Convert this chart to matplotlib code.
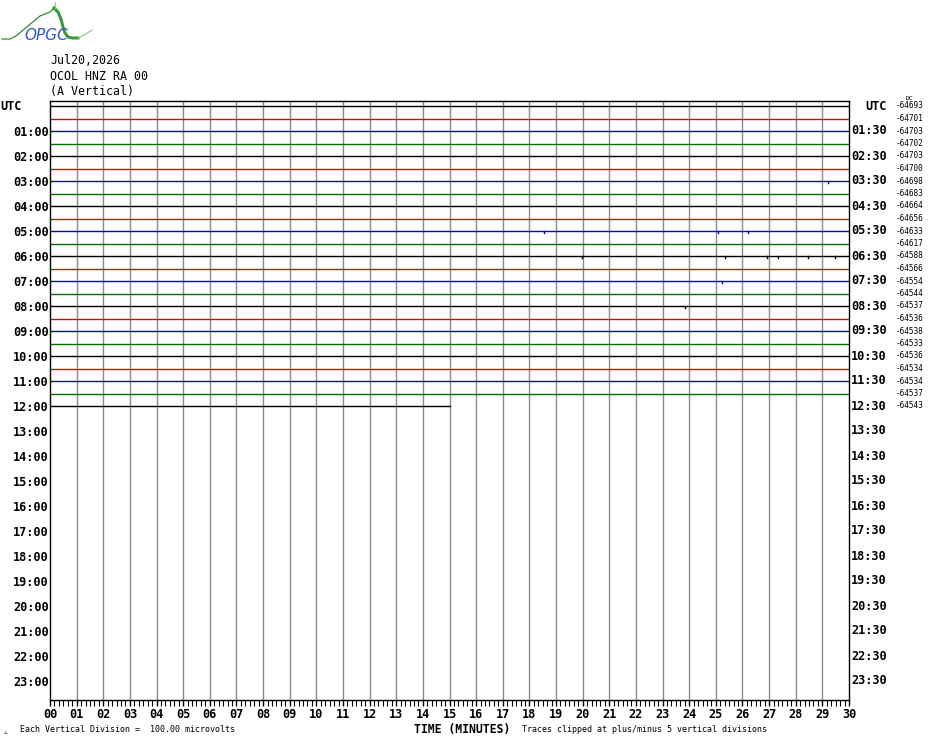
import matplotlib
matplotlib.use("Agg")
import matplotlib.pyplot as plt
import matplotlib.transforms as mtransforms
import numpy as np

# --- data read from the helicorder ---
station = "OCOL HNZ RA 00"
date_str = "Jul20,2026"
component = "(A Vertical)"

minutes_per_row = 30
n_rows_day = 48
last_row = 24
last_row_end = 15.0  # trace of 12:00 row stops at minute 15

row_means = [-64693, -64701, -64703, -64702, -64703, -64700, -64698, -64683,
             -64664, -64656, -64633, -64617, -64588, -64566, -64554, -64544,
             -64537, -64536, -64538, -64533, -64536, -64534, -64534, -64537,
             -64543]

# small spikes: (row, minute)
spike_rows = [6, 10, 10, 10, 12, 12, 12, 12, 12, 12, 14, 16]
spike_mins = [29.2, 18.55, 25.08, 26.2, 19.98, 25.35, 26.92, 27.34, 28.46, 29.48, 25.23, 23.85]

trace_colors = ["black", "#e00000", "#0000e0", "#007000"]

W, H = 930, 744
fig = plt.figure(figsize=(W / 100, H / 100), dpi=100)

mono = "DejaVu Sans Mono"

# plot region in pixels: x 50..849, y 101..700
ax = fig.add_axes([50 / W, (H - 700) / H, 799 / W, 599 / H])
ax.set_xlim(0, minutes_per_row)
ax.set_ylim(47.52, -0.4)

# vertical minute grid
for m in range(1, minutes_per_row):
    ax.axvline(m, color="#8a8a8a", lw=1.0, zorder=1)

# trace rows
for r in range(last_row + 1):
    x_end = last_row_end if r == last_row else minutes_per_row
    ax.plot([0, x_end], [r, r], color=trace_colors[r % 4], lw=1.0, zorder=2)

# spikes
for r, m in zip(spike_rows, spike_mins):
    ax.plot([m, m], [r, r + 0.16], color=trace_colors[r % 4], lw=1.0, zorder=3)

for s in ax.spines.values():
    s.set_color("black")
    s.set_linewidth(1.0)

# left hour labels
hour_rows = list(range(0, n_rows_day, 2))
left_labels = [""] + ["%02d:00" % (r // 2) for r in hour_rows[1:]]
ax.set_yticks(hour_rows)
ax.set_yticklabels(left_labels, fontfamily=mono, fontweight="bold", fontsize=8.6)
ax.tick_params(axis="y", length=0, pad=1)

trans = mtransforms.blended_transform_factory(ax.transAxes, ax.transData)
ax.text(-50 / 799, 0, "UTC", transform=trans, ha="left", va="center",
        fontfamily=mono, fontweight="bold", fontsize=8.6)

# right labels (end time of row)
right_labels = ["UTC"] + ["%02d:30" % (r // 2) for r in hour_rows[1:]]
for r, lab in zip(hour_rows, right_labels):
    ax.text(1.0 + 38 / 799, r, lab, transform=trans, ha="right", va="center",
            fontfamily=mono, fontweight="bold", fontsize=8.6)

# row mean values
for r, v in enumerate(row_means):
    ax.text(1.0 + 47 / 799, r, "%d" % v, transform=trans, ha="left", va="center",
            fontfamily=mono, fontsize=5.6)
ax.text(1.0 + 57 / 799, -0.62, "DC", transform=trans, ha="left", va="center",
        fontfamily=mono, fontsize=4.6)

# x axis
ax.set_xticks(range(0, minutes_per_row + 1))
ax.set_xticklabels(["%02d" % m for m in range(0, minutes_per_row + 1)],
                   fontfamily=mono, fontweight="bold", fontsize=8.6)
ax.set_xticks(np.arange(0, minutes_per_row, 1 / 6), minor=True)
ax.tick_params(axis="x", which="major", direction="out", length=4.6, width=1.0, pad=1.5)
ax.tick_params(axis="x", which="minor", direction="out", length=4.3, width=0.8)

# header text
fig.text(50 / W, 1 - 61 / H, date_str, fontfamily=mono, fontsize=8.4, va="center", ha="left")
fig.text(50 / W, 1 - 76 / H, station, fontfamily=mono, fontsize=8.4, va="center", ha="left")
fig.text(50 / W, 1 - 91 / H, component, fontfamily=mono, fontsize=8.4, va="center", ha="left")

# footer text
fig.text(462 / W, 1 - 729 / H, "TIME (MINUTES)", fontfamily=mono, fontweight="bold",
         fontsize=8.3, ha="center", va="center")
fig.text(20 / W, 1 - 730 / H, "Each Vertical Division =  100.00 microvolts",
         fontfamily=mono, fontsize=6.0, ha="left", va="center")
fig.text(522 / W, 1 - 730 / H, "Traces clipped at plus/minus 5 vertical divisions",
         fontfamily=mono, fontsize=6.0, ha="left", va="center")
fig.text(3 / W, 1 - 733 / H, "ᴊʟ", fontfamily="DejaVu Sans", fontsize=4, ha="left", va="center")

# logo
lax = fig.add_axes([0, 1 - 45 / H, 100 / W, 45 / H])
lax.set_xlim(0, 100)
lax.set_ylim(45, 0)
lax.axis("off")
lx = [2, 10, 16, 22, 28, 34, 40, 45, 50, 54]
ly = [39, 39, 36, 31, 26, 21, 16, 14, 12, 8]
lax.plot(lx, ly, color="#2f8f2f", lw=0.9)
lax.plot([54, 58, 61, 63, 65, 68, 72, 78], [8, 12, 19, 27, 33, 37, 38, 38], color="#3a9a3a", lw=2.2)
lax.plot([78, 84, 92], [38, 35, 30], color="#8fc88f", lw=0.9)
lax.plot([55, 55], [2, 8], color="#8fc88f", lw=0.8)
lax.text(46, 35, "OPGC", color="#3355cc", fontstyle="italic", fontsize=11,
         ha="center", va="center", family="DejaVu Sans")

fig.savefig("out.png", dpi=100)
